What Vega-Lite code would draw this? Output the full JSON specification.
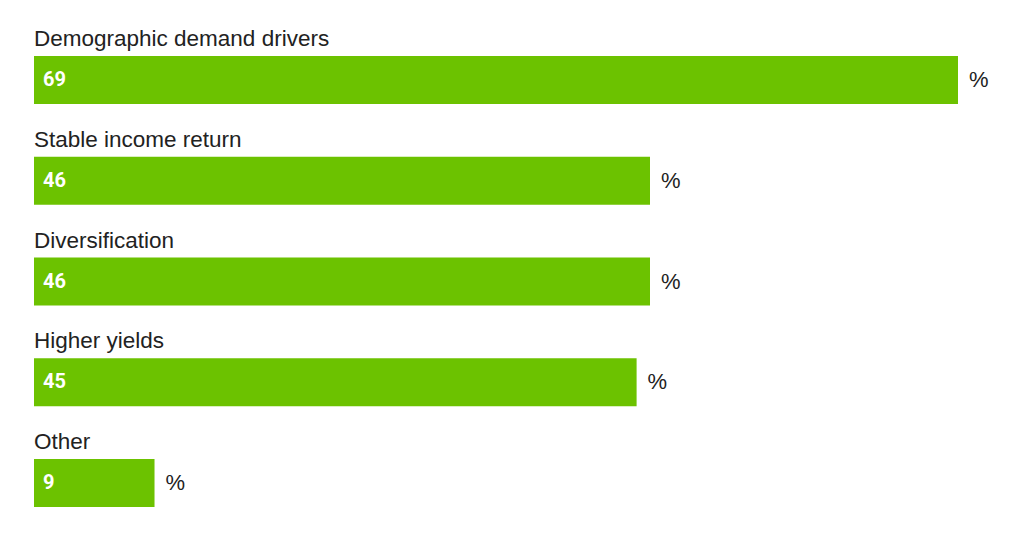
{
  "$schema": "https://vega.github.io/schema/vega-lite/v6.json",
  "width": 924,
  "height": 451,
  "autosize": {"type": "none"},
  "padding": {"left": 34, "top": 56, "right": 66, "bottom": 31},
  "background": "white",
  "config": {"view": {"stroke": null}},
  "data": {
    "values": [
      {"label": "Demographic demand drivers", "value": 69},
      {"label": "Stable income return", "value": 46},
      {"label": "Diversification", "value": 46},
      {"label": "Higher yields", "value": 45},
      {"label": "Other", "value": 9}
    ]
  },
  "encoding": {
    "y": {
      "field": "label",
      "type": "nominal",
      "sort": null,
      "axis": null,
      "scale": {"paddingInner": 0.524, "paddingOuter": 0}
    }
  },
  "layer": [
    {
      "mark": {"type": "bar", "color": "#6cc200"},
      "encoding": {
        "x": {"field": "value", "type": "quantitative", "axis": null, "scale": {"domain": [0, 69], "nice": false}}
      }
    },
    {
      "mark": {"type": "text", "align": "left", "baseline": "middle", "dx": 9, "color": "white", "font": "Roboto", "fontWeight": "bold", "fontSize": 20},
      "encoding": {
        "x": {"datum": 0, "type": "quantitative"},
        "text": {"field": "value", "type": "quantitative"}
      }
    },
    {
      "mark": {"type": "text", "align": "left", "baseline": "middle", "dx": 11, "color": "#222222", "font": "Liberation Sans, Arial, sans-serif", "fontSize": 22},
      "encoding": {
        "x": {"field": "value", "type": "quantitative"},
        "text": {"value": "%"}
      }
    },
    {
      "mark": {"type": "text", "align": "left", "baseline": "middle", "dy": -41, "color": "#222222", "font": "Liberation Sans, Arial, sans-serif", "fontSize": 22.5},
      "encoding": {
        "x": {"datum": 0, "type": "quantitative"},
        "text": {"field": "label", "type": "nominal"}
      }
    }
  ]
}
